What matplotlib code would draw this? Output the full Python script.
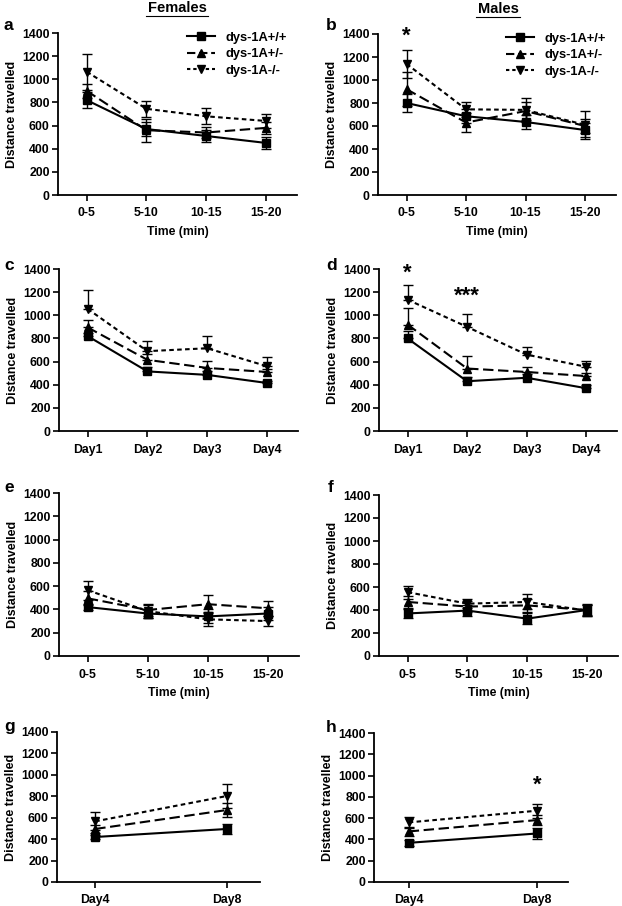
import matplotlib
matplotlib.use("Agg")
import matplotlib.pyplot as plt
from matplotlib.lines import Line2D

plt.rcParams['font.family'] = ['Liberation Sans', 'DejaVu Sans']
plt.rcParams['font.weight'] = 'bold'

W, H = 622, 906

time_labels = ["0-5", "5-10", "10-15", "15-20"]
day_labels = ["Day1", "Day2", "Day3", "Day4"]
dd_labels = ["Day4", "Day8"]
genotypes = ["dys-1A+/+", "dys-1A+/-", "dys-1A-/-"]

# panel a: females, time
a_wt = [820, 570, 510, 450];   a_wt_err = [70, 60, 55, 50]
a_het = [900, 560, 540, 580];  a_het_err = [60, 100, 50, 55]
a_ko = [1065, 745, 680, 640];  a_ko_err = [155, 70, 70, 60]
# panel b: males, time
b_wt = [800, 685, 635, 565];   b_wt_err = [75, 60, 65, 60]
b_het = [920, 630, 730, 600];  b_het_err = [150, 85, 80, 60]
b_ko = [1140, 745, 740, 610];  b_ko_err = [125, 65, 105, 120]
# panel c: females, days
c_wt = [820, 515, 485, 415];   c_wt_err = [30, 40, 35, 20]
c_het = [895, 615, 545, 510];  c_het_err = [65, 50, 60, 30]
c_ko = [1055, 690, 715, 560];  c_ko_err = [165, 85, 105, 80]
# panel d: males, days
d_wt = [800, 430, 460, 370];   d_wt_err = [60, 40, 30, 25]
d_het = [920, 540, 510, 475];  d_het_err = [145, 105, 45, 30]
d_ko = [1135, 900, 660, 555];  d_ko_err = [130, 110, 65, 50]
# panel e: females, time
e_wt = [420, 365, 340, 365];   e_wt_err = [25, 40, 60, 60]
e_het = [495, 395, 445, 410];  e_het_err = [60, 50, 75, 65]
e_ko = [565, 385, 315, 300];   e_ko_err = [80, 55, 60, 45]
# panel f: males, time
f_wt = [370, 395, 325, 400];   f_wt_err = [40, 45, 45, 50]
f_het = [470, 430, 440, 400];  f_het_err = [50, 45, 60, 40]
f_ko = [555, 455, 470, 395];   f_ko_err = [55, 40, 65, 45]
# panel g: females, day4/day8
g_wt = [420, 495];  g_wt_err = [20, 45]
g_het = [495, 672]; g_het_err = [40, 65]
g_ko = [566, 803];  g_ko_err = [85, 110]
# panel h: males, day4/day8
h_wt = [368, 456];  h_wt_err = [30, 50]
h_het = [475, 582]; h_het_err = [45, 50]
h_ko = [560, 670];  h_ko_err = [50, 65]

styles = [
    dict(marker='s', dashes=None),
    dict(marker='^', dashes=(5, 2.2)),
    dict(marker='v', dashes=(2.2, 1.6)),
]
legend_dashes = [None, (4, 1.8), (1.6, 1.4)]

fig = plt.figure(figsize=(W / 100, H / 100), dpi=100)


def add_ax(l, r, t, b):
    return fig.add_axes([l / W, 1 - b / H, (r - l) / W, (b - t) / H])


def draw(ax, labels, series, errs, up_only=False, xlim=None, legend=False, xlabel=None):
    x = list(range(len(labels)))
    for i, (vals, err) in enumerate(zip(series, errs)):
        st = styles[i]
        yerr = [[0] * len(err), err] if up_only else err
        cont = ax.errorbar(x, vals, yerr=yerr, color='black', ecolor='black', elinewidth=1.0,
                           capsize=3.4, capthick=1.0, marker=st['marker'], markersize=6,
                           linewidth=1.5, zorder=3 - i)
        ln = cont.lines[0]
        if st['dashes'] is not None:
            ln.set_dashes(st['dashes'])
    ax.set_ylim(0, 1400)
    ax.set_yticks(range(0, 1401, 200))
    ax.set_xticks(x)
    ax.set_xticklabels(labels)
    if xlim is None:
        xlim = (-0.48, len(labels) - 0.48)
    ax.set_xlim(*xlim)
    for s in ('top', 'right'):
        ax.spines[s].set_visible(False)
    for s in ('left', 'bottom'):
        ax.spines[s].set_linewidth(1.3)
    ax.tick_params(axis='both', labelsize=8.8, width=1.2, length=4, direction='out', pad=2)
    ax.tick_params(axis='x', pad=5)
    for lab in ax.get_xticklabels() + ax.get_yticklabels():
        lab.set_fontweight('bold')
    ax.set_ylabel('Distance travelled', fontsize=9, fontweight='bold', labelpad=3)
    if xlabel:
        ax.set_xlabel(xlabel, fontsize=8.8, fontweight='bold', labelpad=5)
    if legend:
        handles = []
        for i, st in enumerate(styles):
            h = Line2D([], [], color='black', marker=st['marker'], markersize=6, linewidth=1.5)
            if legend_dashes[i] is not None:
                h.set_dashes(legend_dashes[i])
            handles.append(h)
        leg = ax.legend(handles, genotypes, loc='upper right', frameon=False, fontsize=9.3,
                        handlelength=2.2, labelspacing=0.35, borderaxespad=0.0,
                        handletextpad=0.8, bbox_to_anchor=(0.98, 1.04))
        for t in leg.get_texts():
            t.set_fontweight('bold')


ax_a = add_ax(58, 297, 33, 195)
draw(ax_a, time_labels, [a_wt, a_het, a_ko], [a_wt_err, a_het_err, a_ko_err],
     legend=True, xlabel='Time (min)')
ax_b = add_ax(378, 616, 34, 195)
draw(ax_b, time_labels, [b_wt, b_het, b_ko], [b_wt_err, b_het_err, b_ko_err],
     legend=True, xlabel='Time (min)')
ax_c = add_ax(59, 298, 269, 431)
draw(ax_c, day_labels, [c_wt, c_het, c_ko], [c_wt_err, c_het_err, c_ko_err], up_only=True)
ax_d = add_ax(379, 617, 269, 431)
draw(ax_d, day_labels, [d_wt, d_het, d_ko], [d_wt_err, d_het_err, d_ko_err], up_only=True)
ax_e = add_ax(59, 299, 493, 656)
draw(ax_e, time_labels, [e_wt, e_het, e_ko], [e_wt_err, e_het_err, e_ko_err], xlabel='Time (min)')
ax_f = add_ax(379, 618, 495, 656)
draw(ax_f, time_labels, [f_wt, f_het, f_ko], [f_wt_err, f_het_err, f_ko_err], xlabel='Time (min)')
ax_g = add_ax(57, 260, 732, 882)
draw(ax_g, dd_labels, [g_wt, g_het, g_ko], [g_wt_err, g_het_err, g_ko_err], xlim=(-0.29, 1.25))
ax_h = add_ax(374, 568, 733, 882)
draw(ax_h, dd_labels, [h_wt, h_het, h_ko], [h_wt_err, h_het_err, h_ko_err], xlim=(-0.27, 1.24))

# significance stars
ax_b.text(0, 1385, '*', ha='center', va='center', fontsize=16, fontweight='bold')
ax_d.text(0, 1360, '*', ha='center', va='center', fontsize=16, fontweight='bold')
ax_d.text(1, 1165, '***', ha='center', va='center', fontsize=16, fontweight='bold')
ax_h.text(1, 905, '*', ha='center', va='center', fontsize=16, fontweight='bold')

# panel letters
for lab, (px, py) in zip('abcdefgh', [(4, 25), (326, 25), (4, 265), (326, 265),
                                      (4, 487), (328, 488), (4, 726), (326, 727)]):
    fig.text(px / W, 1 - py / H, lab, fontsize=12.5, fontweight='bold', ha='left', va='center')

# column titles with underline
fig.text(177 / W, 1 - 8 / H, 'Females', fontsize=10.5, fontweight='bold', ha='center', va='center')
fig.text(498 / W, 1 - 9 / H, 'Males', fontsize=10.5, fontweight='bold', ha='center', va='center')
fig.add_artist(Line2D([146 / W, 208 / W], [1 - 16 / H, 1 - 16 / H], color='black', lw=0.8))
fig.add_artist(Line2D([476 / W, 520 / W], [1 - 16.5 / H, 1 - 16.5 / H], color='black', lw=0.8))

fig.savefig('out.png', dpi=100, facecolor='white')
